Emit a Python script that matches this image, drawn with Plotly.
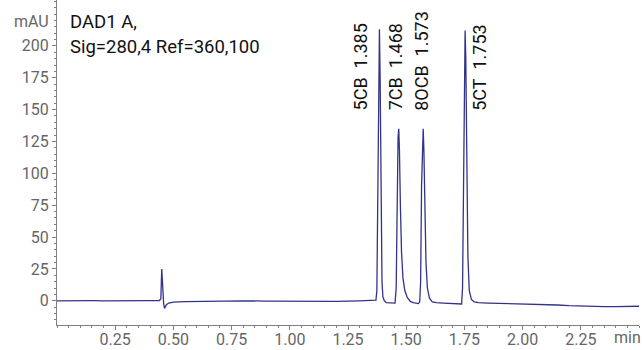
import plotly.graph_objects as go

# ---- data ----
time_min = [0.00, 0.05, 0.10, 0.15, 0.20, 0.25, 0.30, 0.35, 0.40, 0.440,
            0.446, 0.450, 0.454, 0.458, 0.462, 0.470, 0.480, 0.50, 0.55, 0.60,
            0.70, 0.80, 0.90, 1.00, 1.10, 1.20, 1.30, 1.35, 1.370,
            1.374, 1.378, 1.382, 1.385, 1.388, 1.392, 1.396, 1.400, 1.406, 1.415, 1.425, 1.440, 1.452,
            1.457, 1.461, 1.465, 1.468, 1.471, 1.475, 1.480, 1.486, 1.494, 1.505, 1.518, 1.530, 1.542, 1.552, 1.558,
            1.562, 1.566, 1.570, 1.573, 1.576, 1.580, 1.585, 1.591, 1.600, 1.612, 1.630, 1.660, 1.700, 1.738,
            1.742, 1.746, 1.750, 1.753, 1.756, 1.760, 1.765, 1.771, 1.780, 1.792, 1.810,
            1.85, 1.90, 1.95, 2.00, 2.05, 2.10, 2.15, 2.20, 2.25, 2.30, 2.35, 2.40, 2.45, 2.50]
signal_mau = [0.0, 0.2, -0.1, 0.1, 0.0, -0.1, 0.1, 0.0, 0.1, 0.2,
              1.5, 25.0, 8.0, -2.0, -6.0, -3.0, -1.8, -1.0, -0.6, -0.4,
              -0.2, 0.0, -0.3, -0.4, -0.5, -0.4, 0.0, 0.2, 0.5,
              8.0, 70.0, 180.0, 213.0, 175.0, 70.0, 15.0, 3.0, 0.0, -1.5, -1.5, -2.0, -1.8,
              10.0, 75.0, 128.0, 135.0, 118.0, 75.0, 38.0, 18.0, 8.0, 2.5, -0.5, -1.5, -1.8, -2.2, -1.0,
              15.0, 90.0, 130.0, 135.0, 118.0, 70.0, 30.0, 10.0, 2.0, -0.8, -1.5, -1.8, -2.2, -2.5,
              10.0, 90.0, 190.0, 212.0, 190.0, 110.0, 35.0, 8.0, 1.0, -0.8, -1.5,
              -1.8, -2.0, -2.2, -2.5, -2.8, -3.0, -3.3, -3.8, -4.2, -4.5, -4.6, -4.6, -4.5, -4.3]

peak_names = ["5CB", "7CB", "8OCB", "5CT"]
peak_times = [1.385, 1.468, 1.573, 1.753]

y_tick_values = [0, 25, 50, 75, 100, 125, 150, 175, 200]
x_tick_values = [0.25, 0.50, 0.75, 1.00, 1.25, 1.50, 1.75, 2.00, 2.25]
x_tick_labels = ["0.25", "0.50", "0.75", "1.00", "1.25", "1.50", "1.75", "2.00", "2.25"]

# ---- figure ----
FONT = "Roboto"
TICK_COLOR = "#666666"
AXIS_COLOR = "#808080"
TEXT_COLOR = "#111111"

fig = go.Figure()
fig.add_trace(go.Scatter(x=time_min, y=signal_mau, mode="lines",
                         line=dict(color="#33338a", width=1.3),
                         hoverinfo="skip", showlegend=False))

label_offsets = [-0.083, -0.016, -0.005, 0.064]
for name, t, off in zip(peak_names, peak_times, label_offsets):
    fig.add_annotation(x=t + off, y=147.5, xref="x", yref="y",
                       text=f"{name}\u00a0\u00a0{t:.3f}", textangle=-90,
                       showarrow=False, xanchor="center", yanchor="bottom",
                       font=dict(family=FONT, size=18, color=TEXT_COLOR))

fig.add_annotation(x=0.019, y=219, xref="paper", yref="y",
                   text="DAD1 A,", showarrow=False, xanchor="left", yanchor="middle",
                   font=dict(family=FONT, size=18.5, color=TEXT_COLOR))
fig.add_annotation(x=0.019, y=199, xref="paper", yref="y",
                   text="Sig=280,4 Ref=360,100", showarrow=False,
                   xanchor="left", yanchor="middle",
                   font=dict(family=FONT, size=18.5, color=TEXT_COLOR))
fig.add_annotation(x=0, y=219, xref="paper", yref="y", xshift=-6,
                   text="mAU", showarrow=False, xanchor="right", yanchor="middle",
                   font=dict(family=FONT, size=16, color=TICK_COLOR))
fig.add_annotation(x=1, y=0, xref="paper", yref="paper", xshift=4, yshift=-1,
                   text="min", showarrow=False, xanchor="right", yanchor="top",
                   font=dict(family=FONT, size=16, color=TICK_COLOR))

fig.update_layout(
    width=644, height=350,
    margin=dict(l=57, r=5, t=0, b=25),
    paper_bgcolor="white", plot_bgcolor="white",
    font=dict(family=FONT, size=16, color=TICK_COLOR),
    xaxis=dict(range=[0, 2.5], showgrid=False, zeroline=False, automargin=False,
               showline=True, linecolor=AXIS_COLOR, linewidth=1,
               tickvals=x_tick_values, ticktext=x_tick_labels,
               ticks="outside", ticklen=4, tickcolor=AXIS_COLOR,
               ticklabelstandoff=-4,
               minor=dict(dtick=0.05, tick0=0, ticks="outside", ticklen=2,
                          tickcolor=AXIS_COLOR, showgrid=False),
               tickfont=dict(family=FONT, size=16, color=TICK_COLOR)),
    yaxis=dict(range=[-19, 236], showgrid=False, zeroline=False, automargin=False,
               showline=True, linecolor=AXIS_COLOR, linewidth=1,
               tickvals=y_tick_values,
               ticks="outside", ticklen=4, tickcolor=AXIS_COLOR,
               minor=dict(dtick=5, tick0=0, ticks="outside", ticklen=2,
                          tickcolor=AXIS_COLOR, showgrid=False),
               tickfont=dict(family=FONT, size=16, color=TICK_COLOR)),
)

fig.write_html("out.html")
